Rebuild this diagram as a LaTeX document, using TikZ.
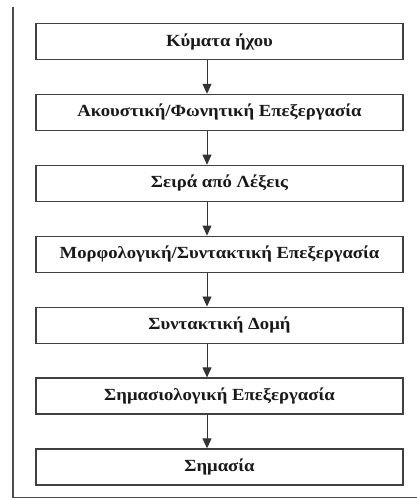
\documentclass[tikz,border=0pt]{standalone}
\usepackage{fontspec}
\setmainfont[FakeStretch=1.1]{Liberation Serif}
\usetikzlibrary{positioning, arrows.meta}

\begin{document}
\begin{tikzpicture}[
        node distance=33.7pt,
        ST/.style = {draw=black!75, line width=1.2pt, fill=white, minimum height=36pt, minimum width=367pt, inner sep=2pt, text=black!90, font=\fontsize{17}{20}\selectfont\bfseries},%
        arrow/.style = {draw=black!80, line width=0.9pt, -{Triangle[length=10pt, width=9pt]}}%
    ]%
        \path[use as bounding box] (0pt,0pt) rectangle (417pt,-500pt);
        \draw[black!70, line width=1.2pt] (13pt,-7pt) -- (13pt,-497.5pt) -- (417pt,-497.5pt);
        \node[ST] (1) at (219.5pt,-41.5pt) {Κύματα ήχου};
        \node[ST, below=of 1] (2) {Ακουστική/Φωνητική Επεξεργασία};
        \node[ST, below=of 2] (3) {Σειρά από Λέξεις};
        \node[ST, below=of 3] (4) {Μορφολογική/Συντακτική Επεξεργασία};
        \node[ST, below=of 4] (5) {Συντακτική Δομή};
        \node[ST, below=of 5] (6) {Σημασιολογική Επεξεργασία};
        \node[ST, below=of 6] (7) {Σημασία};
        \foreach \a/\b in {1/2, 2/3, 3/4, 4/5, 5/6, 6/7}
            \draw[arrow] ([xshift=-12.5pt]\a.south) -- ([xshift=-12.5pt]\b.north);
    \end{tikzpicture}
\end{document}
